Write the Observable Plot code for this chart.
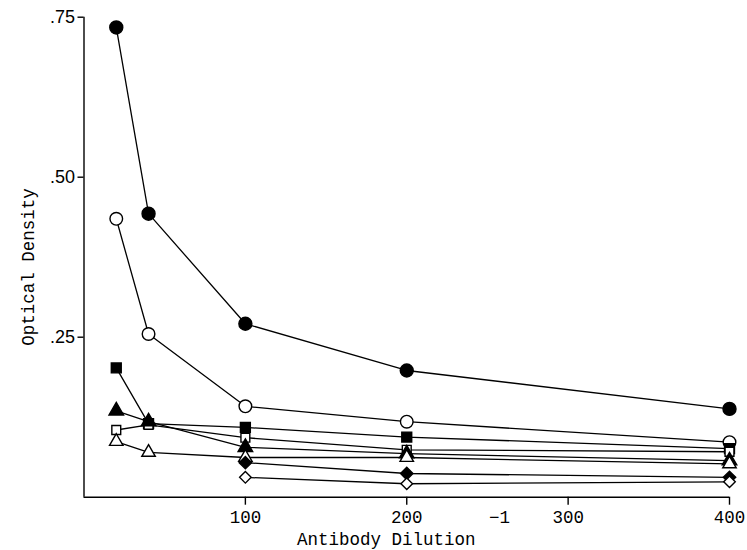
<!DOCTYPE html>
<html>
<head>
<meta charset="utf-8">
<script src="https://cdn.jsdelivr.net/npm/d3@7"></script>
<script src="https://cdn.jsdelivr.net/npm/@observablehq/plot@0.6"></script>
<style>
  html, body { margin: 0; padding: 0; background: #fff; }
  #chart svg { display: block; }
</style>
</head>
<body>
<div id="chart"></div>
<script>
// Antibody dilution (reciprocal)
const dilutions = [20, 40, 100, 200, 400];

// Optical density per series (null = no measurement)
const filledCircle   = [0.734, 0.443, 0.271, 0.198, 0.138];
const openCircle     = [0.435, 0.255, 0.142, 0.118, 0.086];
const filledSquare   = [0.202, 0.115, 0.109, 0.094, 0.076];
const openSquare     = [0.105, 0.113, 0.093, 0.074, 0.071];
const filledTriangle = [0.135, 0.118, 0.078, 0.068, 0.057];
const openTriangle   = [0.087, 0.070, 0.062, 0.062, 0.052];
const filledDiamond  = [null, null, 0.054, 0.037, 0.031];
const openDiamond    = [null, null, 0.031, 0.021, 0.024];

const yTicks = [0.25, 0.50, 0.75];
const xTicks = [100, 200, 300, 400];

const seriesList = [
  {key: "filledCircle",   values: filledCircle,   symbol: "circle",   filled: true,  r: 6.5},
  {key: "openCircle",     values: openCircle,     symbol: "circle",   filled: false, r: 6.3},
  {key: "filledSquare",   values: filledSquare,   symbol: "square",   filled: true,  r: 5.6},
  {key: "openSquare",     values: openSquare,     symbol: "square",   filled: false, r: 5.0},
  {key: "filledTriangle", values: filledTriangle, symbol: "triangle", filled: true,  r: 5.4},
  {key: "openTriangle",   values: openTriangle,   symbol: "triangle", filled: false, r: 5.0},
  {key: "filledDiamond",  values: filledDiamond,  symbol: "diamond2", filled: true,  r: 5.6},
  {key: "openDiamond",    values: openDiamond,    symbol: "diamond2", filled: false, r: 5.2}
];

const rows = [];
for (const s of seriesList) {
  s.values.forEach((v, i) => {
    if (v != null) rows.push({x: dilutions[i], y: v, key: s.key});
  });
}

const monoFont = "'Liberation Mono', 'DejaVu Sans Mono', monospace";
const sansFont = "'Liberation Sans', Arial, sans-serif";

const marks = [
  Plot.ruleX([0], {y1: 0, y2: 0.75, stroke: "black", strokeWidth: 1.4}),
  Plot.ruleY([0], {x1: 0, x2: 400, stroke: "black", strokeWidth: 1.4}),
  Plot.axisY({
    ticks: yTicks,
    tickFormat: d => d.toFixed(2).replace(/^0/, ""),
    tickSize: 6,
    tickPadding: 3,
    label: null,
    strokeWidth: 1.4
  }),
  Plot.axisX({
    ticks: xTicks,
    tickSize: 8,
    tickPadding: 5,
    label: null,
    strokeWidth: 1.4
  }),
  Plot.line(rows, {x: "x", y: "y", z: "key", stroke: "black", strokeWidth: 1.3})
];

for (const s of seriesList) {
  marks.push(Plot.dot(rows.filter(d => d.key === s.key), {
    x: "x", y: "y",
    symbol: s.symbol,
    r: s.r,
    fill: s.filled ? "black" : "white",
    stroke: "black",
    strokeWidth: 1.4
  }));
}

const plot = Plot.plot({
  width: 747,
  height: 550,
  marginLeft: 83.5,
  marginRight: 18,
  marginTop: 16.7,
  marginBottom: 53.3,
  x: {domain: [0, 400]},
  y: {domain: [0, 0.75]},
  style: {background: "white", color: "black"},
  marks
});

const svg = d3.select(plot);
svg.selectAll('g[aria-label="y-axis tick label"]')
  .style("font-family", sansFont)
  .style("font-size", "18px");
svg.selectAll('g[aria-label="x-axis tick label"]')
  .style("font-family", monoFont)
  .style("font-size", "17.5px");

svg.append("text")
  .attr("x", 297)
  .attr("y", 545)
  .attr("text-anchor", "start")
  .style("font-family", monoFont)
  .style("font-size", "17.5px")
  .attr("fill", "black")
  .text("Antibody Dilution");
svg.append("text")
  .attr("x", 489)
  .attr("y", 523)
  .attr("text-anchor", "start")
  .style("font-family", monoFont)
  .style("font-size", "17.5px")
  .attr("fill", "black")
  .text("−1");
svg.append("text")
  .attr("transform", "translate(34,267) rotate(-90)")
  .attr("text-anchor", "middle")
  .style("font-family", monoFont)
  .style("font-size", "17.5px")
  .attr("fill", "black")
  .text("Optical Density");

document.getElementById("chart").appendChild(plot);
</script>
</body>
</html>
